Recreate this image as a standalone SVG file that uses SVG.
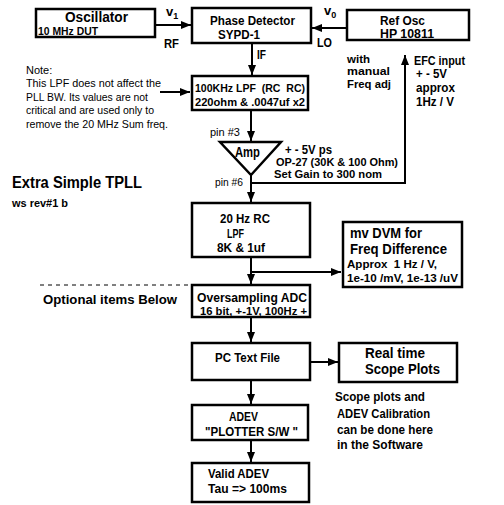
<svg xmlns="http://www.w3.org/2000/svg" width="504" height="505" viewBox="0 0 504 505">
<style>
.box{fill:#fff;stroke:#000;stroke-width:2.5}
.ln{fill:none;stroke:#000;stroke-width:2}
text{font-family:"Liberation Sans",Arial,sans-serif;fill:#000}
.b{font-weight:bold}
.r{font-weight:normal;font-size:11px}
</style>
<defs>
<marker id="ah" viewBox="0 0 10 8" refX="10" refY="4" markerWidth="10" markerHeight="8" orient="auto" markerUnits="userSpaceOnUse"><path d="M0,0 L10,4 L0,8 z" fill="#000"/></marker>
</defs>
<rect width="504" height="505" fill="#fff"/>

<g id="connectors">
<path class="ln" d="M155,25 H191" marker-end="url(#ah)"/>
<path class="ln" d="M347,28 H312" marker-end="url(#ah)"/>
<path class="ln" d="M252,43 V75" marker-end="url(#ah)"/>
<path class="ln" d="M160,92 H190" marker-end="url(#ah)" stroke-width="3"/>
<path class="ln" d="M251,110 V141" marker-end="url(#ah)"/>
<path class="ln" d="M251,175 V202" marker-end="url(#ah)"/>
<path class="ln" d="M251,183 H405 V55" marker-end="url(#ah)"/>
<path class="ln" d="M251,257 V284" marker-end="url(#ah)"/>
<path class="ln" d="M251,272 H341" marker-end="url(#ah)"/>
<path class="ln" d="M251,317 V342" marker-end="url(#ah)"/>
<path class="ln" d="M310,362 H338" marker-end="url(#ah)"/>
<path class="ln" d="M251,380 V404" marker-end="url(#ah)"/>
<path class="ln" d="M251,440 V462" marker-end="url(#ah)"/>
<path d="M40,285 H188" fill="none" stroke="#000" stroke-width="1" stroke-dasharray="4,4"/>
</g>

<g id="oscillator">
<rect class="box" x="36" y="9" width="119" height="28"/>
<text class="b" x="65" y="22" font-size="14" textLength="63" lengthAdjust="spacingAndGlyphs">Oscillator</text>
<text class="b" x="38" y="35" font-size="11.5" textLength="60" lengthAdjust="spacingAndGlyphs">10 MHz DUT</text>
</g>
<g id="v1-label">
<text class="b" x="166" y="16" font-size="13">v<tspan font-size="9" dy="3">1</tspan></text>
<text class="b" x="164" y="48" font-size="12" textLength="15" lengthAdjust="spacingAndGlyphs">RF</text>
</g>

<g id="phase-detector">
<rect class="box" x="192" y="8" width="119" height="35"/>
<text class="b" x="210" y="25" font-size="12.5" textLength="85" lengthAdjust="spacingAndGlyphs">Phase Detector</text>
<text class="b" x="218" y="39" font-size="12.5" textLength="42" lengthAdjust="spacingAndGlyphs">SYPD-1</text>
<text class="b" x="257" y="59" font-size="12" textLength="9" lengthAdjust="spacingAndGlyphs">IF</text>
</g>

<g id="ref-osc">
<rect class="box" x="347" y="10" width="122" height="30"/>
<text class="b" x="380" y="25" font-size="12.5" textLength="45" lengthAdjust="spacingAndGlyphs">Ref Osc</text>
<text class="b" x="380" y="38" font-size="12.5" textLength="54" lengthAdjust="spacingAndGlyphs">HP 10811</text>
<text class="b" x="324" y="15" font-size="13">v<tspan font-size="9" dy="3">0</tspan></text>
<text class="b" x="317" y="47" font-size="12" textLength="15" lengthAdjust="spacingAndGlyphs">LO</text>
<text class="b" x="347" y="63" font-size="11" textLength="23" lengthAdjust="spacingAndGlyphs">with</text>
<text class="b" x="347" y="75" font-size="11" textLength="43" lengthAdjust="spacingAndGlyphs">manual</text>
<text class="b" x="347" y="88" font-size="11" textLength="44" lengthAdjust="spacingAndGlyphs">Freq adj</text>
</g>

<g id="efc-label">
<text class="b" x="414" y="65" font-size="12" textLength="51" lengthAdjust="spacingAndGlyphs">EFC input</text>
<text class="b" x="416" y="78" font-size="12" textLength="31" lengthAdjust="spacingAndGlyphs">+ - 5V</text>
<text class="b" x="416" y="92" font-size="12" textLength="39" lengthAdjust="spacingAndGlyphs">approx</text>
<text class="b" x="416" y="106" font-size="12" textLength="38" lengthAdjust="spacingAndGlyphs">1Hz / V</text>
</g>

<g id="note">
<text class="r" x="26" y="74">Note:</text>
<text class="r" x="26" y="87" textLength="135" lengthAdjust="spacingAndGlyphs">This LPF does not affect the</text>
<text class="r" x="26" y="101" textLength="122" lengthAdjust="spacingAndGlyphs">PLL BW. Its values are not</text>
<text class="r" x="26" y="114" textLength="128" lengthAdjust="spacingAndGlyphs">critical and are used only to</text>
<text class="r" x="26" y="128" textLength="142" lengthAdjust="spacingAndGlyphs">remove the 20 MHz Sum freq.</text>
</g>

<g id="lpf-100khz">
<rect class="box" x="192" y="76" width="116" height="34"/>
<text class="b" x="195" y="92" font-size="11.5" textLength="110" lengthAdjust="spacingAndGlyphs">100KHz LPF &#160;(RC &#160;RC)</text>
<text class="b" x="195" y="106" font-size="11.5" textLength="110" lengthAdjust="spacingAndGlyphs">220ohm &amp; .0047uf x2</text>
</g>

<g id="amp">
<text class="r" x="210" y="136" textLength="30" lengthAdjust="spacingAndGlyphs">pin #3</text>
<polygon points="220,142 281,142 251,175" fill="#fff" stroke="#000" stroke-width="2.5" stroke-linejoin="miter"/>
<text class="b" x="235" y="157" font-size="14" textLength="25" lengthAdjust="spacingAndGlyphs">Amp</text>
<text class="r" x="215" y="186" textLength="28" lengthAdjust="spacingAndGlyphs">pin #6</text>
<text class="b" x="285" y="154" font-size="12" textLength="47" lengthAdjust="spacingAndGlyphs">+ - 5V ps</text>
<text class="b" x="276" y="166" font-size="11" textLength="122" lengthAdjust="spacingAndGlyphs">OP-27 (30K &amp; 100 Ohm)</text>
<text class="b" x="274" y="178" font-size="11" textLength="108" lengthAdjust="spacingAndGlyphs">Set Gain to 300 nom</text>
</g>

<g id="title">
<text class="b" x="12" y="188" font-size="16" textLength="130" lengthAdjust="spacingAndGlyphs">Extra Simple TPLL</text>
<text class="b" x="12" y="207" font-size="10" textLength="56" lengthAdjust="spacingAndGlyphs">ws rev#1 b</text>
</g>

<g id="lpf-20hz">
<rect class="box" x="192" y="203" width="118" height="54"/>
<text class="b" x="220" y="223" font-size="13" textLength="50" lengthAdjust="spacingAndGlyphs">20 Hz RC</text>
<text class="b" x="227" y="238" font-size="13" textLength="17" lengthAdjust="spacingAndGlyphs">LPF</text>
<text class="b" x="217" y="252" font-size="12" textLength="48" lengthAdjust="spacingAndGlyphs">8K &amp; 1uf</text>
</g>

<g id="dvm">
<rect class="box" x="343" y="222" width="119" height="65"/>
<text class="b" x="350" y="238" font-size="14" textLength="72" lengthAdjust="spacingAndGlyphs">mv DVM for</text>
<text class="b" x="350" y="254" font-size="14" textLength="97" lengthAdjust="spacingAndGlyphs">Freq Difference</text>
<text class="b" x="347" y="268" font-size="11" textLength="90" lengthAdjust="spacingAndGlyphs">Approx &#160;1 Hz / V,</text>
<text class="b" x="347" y="282" font-size="11" textLength="111" lengthAdjust="spacingAndGlyphs">1e-10 /mV, 1e-13 /uV</text>
</g>

<g id="optional">
<text class="b" x="43" y="304" font-size="13" textLength="134" lengthAdjust="spacingAndGlyphs">Optional items Below</text>
</g>

<g id="adc">
<rect class="box" x="192" y="285" width="118" height="32"/>
<text class="b" x="197" y="302" font-size="12.5" textLength="110" lengthAdjust="spacingAndGlyphs">Oversampling ADC</text>
<text class="b" x="200" y="315" font-size="11" textLength="107" lengthAdjust="spacingAndGlyphs">16 bit, +-1V, 100Hz +</text>
</g>

<g id="pc-text-file">
<rect class="box" x="192" y="343" width="118" height="37"/>
<text class="b" x="215" y="362" font-size="13" textLength="65" lengthAdjust="spacingAndGlyphs">PC Text File</text>
</g>

<g id="scope-plots">
<rect class="box" x="339" y="343" width="118" height="39"/>
<text class="b" x="365" y="358" font-size="14" textLength="60" lengthAdjust="spacingAndGlyphs">Real time</text>
<text class="b" x="365" y="374" font-size="14" textLength="75" lengthAdjust="spacingAndGlyphs">Scope Plots</text>
</g>

<g id="scope-note">
<text class="b" x="335" y="401" font-size="12" textLength="90" lengthAdjust="spacingAndGlyphs">Scope plots and</text>
<text class="b" x="337" y="418" font-size="12" textLength="93" lengthAdjust="spacingAndGlyphs">ADEV Calibration</text>
<text class="b" x="337" y="434" font-size="12" textLength="96" lengthAdjust="spacingAndGlyphs">can be done here</text>
<text class="b" x="337" y="449" font-size="12" textLength="86" lengthAdjust="spacingAndGlyphs">in the Software</text>
</g>

<g id="adev">
<rect class="box" x="192" y="405" width="116" height="35"/>
<text class="b" x="229" y="421" font-size="12.5" textLength="29" lengthAdjust="spacingAndGlyphs">ADEV</text>
<text class="b" x="205" y="436" font-size="12.5" textLength="93" lengthAdjust="spacingAndGlyphs">"PLOTTER S/W "</text>
</g>

<g id="valid-adev">
<rect class="box" x="192" y="463" width="117" height="39"/>
<text class="b" x="208" y="478" font-size="13" textLength="61" lengthAdjust="spacingAndGlyphs">Valid ADEV</text>
<text class="b" x="208" y="493" font-size="13" textLength="79" lengthAdjust="spacingAndGlyphs">Tau =&gt; 100ms</text>
</g>
</svg>
